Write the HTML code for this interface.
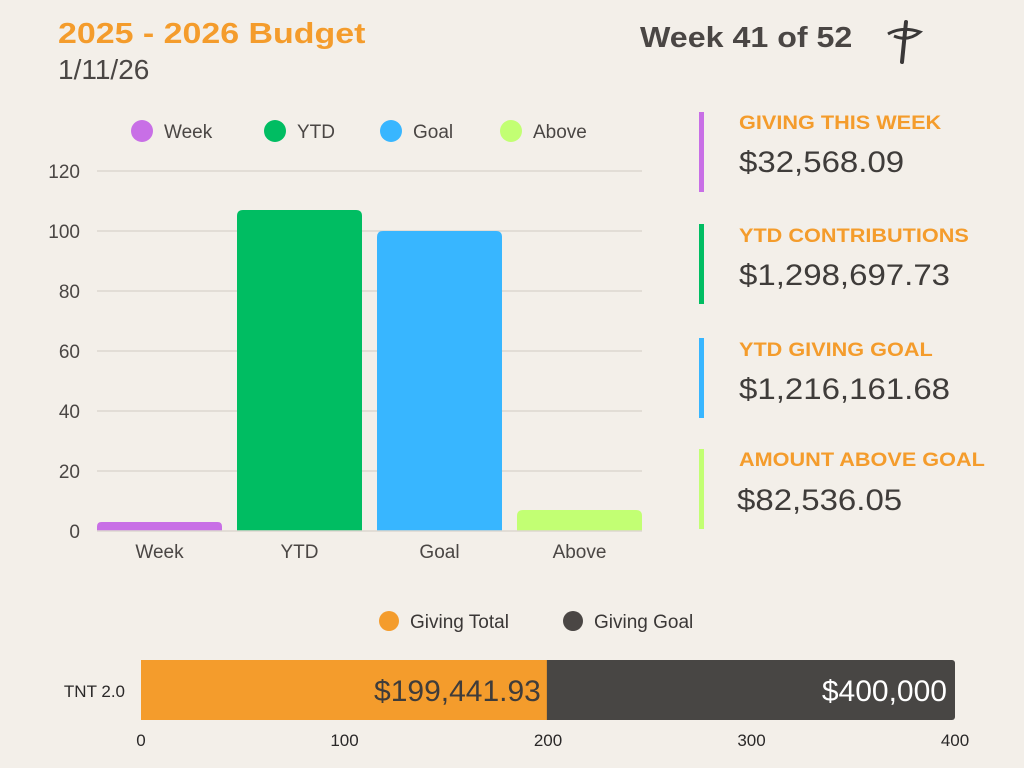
<!DOCTYPE html>
<html><head><meta charset="utf-8"><style>
body{margin:0;width:1024px;height:768px;background:#f3efe9;font-family:"Liberation Sans",sans-serif;overflow:hidden;position:relative;color:#4a4644}
.a{position:absolute;white-space:nowrap;transform-origin:0 0}
.lab{color:#f49c2c;font-weight:bold;font-size:19px;transform:scaleX(1.14)}
.val{font-size:30px;color:#3f3c3a;transform:scaleX(1.1)}
.vb{position:absolute;width:5px}
</style></head><body>
<div class="a" style="left:58px;top:18px;font-size:29px;font-weight:bold;color:#f49c2c;transform:scaleX(1.17)">2025 - 2026 Budget</div>
<div class="a" style="left:58px;top:54px;font-size:28px;color:#4a4644">1/11/26</div>
<div class="a" style="left:640px;top:22px;font-size:29px;font-weight:bold;color:#4a4644;transform:scaleX(1.11)">Week 41 of 52</div>
<svg class="a" style="left:880px;top:16px" width="50" height="50"><path d="M8 18 Q22 10 40 16 Q28 26 14 20" fill="none" stroke="#3a3838" stroke-width="3"/><path d="M26 6 L22 46" stroke="#3a3838" stroke-width="4" stroke-linecap="round"/></svg>

<div class="vb" style="left:699px;top:112px;height:80px;background:#c86fe6"></div>
<div class="a lab" style="left:739px;top:113px">GIVING THIS WEEK</div>
<div class="a val" style="left:739px;top:146px">$32,568.09</div>
<div class="vb" style="left:699px;top:224px;height:80px;background:#00bd62"></div>
<div class="a lab" style="left:739px;top:226px">YTD CONTRIBUTIONS</div>
<div class="a val" style="left:739px;top:259px">$1,298,697.73</div>
<div class="vb" style="left:699px;top:338px;height:80px;background:#38b6ff"></div>
<div class="a lab" style="left:739px;top:340px">YTD GIVING GOAL</div>
<div class="a val" style="left:739px;top:373px">$1,216,161.68</div>
<div class="vb" style="left:699px;top:449px;height:80px;background:#c2ff73"></div>
<div class="a lab" style="left:739px;top:450px">AMOUNT ABOVE GOAL</div>
<div class="a val" style="left:737px;top:484px">$82,536.05</div>

<svg id="c" class="a" style="left:0;top:0" width="1024" height="768"></svg>
<script>
const categories=["Week","YTD","Goal","Above"];
const values=[3,107,100,7];
const colors=["#c86fe6","#00bd62","#38b6ff","#c2ff73"];
const yTicks=[0,20,40,60,80,100,120];
const progLabel="TNT 2.0";
const progTotal=[199.44193];
const progGoal=[400];
const xTicks=[0,100,200,300,400];
const ns="http://www.w3.org/2000/svg",s=document.getElementById('c');
function el(t,a,txt){const e=document.createElementNS(ns,t);for(const k in a)e.setAttribute(k,a[k]);if(txt!=null)e.textContent=txt;s.appendChild(e);return e;}
const y=v=>531-v*3, x0=97, band=140, bw=125;
yTicks.forEach(t=>{
 if(t>0){const l=el('line',{x1:97,x2:642,y1:y(t),y2:y(t),stroke:"#dcd7d0","stroke-width":1.5});
 
 }
 const tx=el('text',{x:80,y:y(t)+7,"text-anchor":"end","font-size":19,fill:"#4a4644","font-family":"Liberation Sans"},t);
 
 
});
categories.forEach((c,i)=>{
 const bx=x0+i*band,h=values[i]*3,r=Math.min(6,h/2);
 const p=el('path',{d:`M${bx} 531 V${y(values[i])+r} Q${bx} ${y(values[i])} ${bx+r} ${y(values[i])} H${bx+bw-r} Q${bx+bw} ${y(values[i])} ${bx+bw} ${y(values[i])+r} V531 Z`,fill:colors[i]});
 
 
 const t=el('text',{x:bx+bw/2,y:558,"text-anchor":"middle","font-size":19,fill:"#4a4644","font-family":"Liberation Sans"},c);
 
 
 const lx=[142,275,391,511][i];
 const cc=el('circle',{cx:lx,cy:131,r:11,fill:colors[i]});
 
 
 const lt=el('text',{x:lx+22,y:138,"font-size":19,fill:"#4a4644","font-family":"Liberation Sans"},c);
 
 
});
const bl=el('line',{x1:97,x2:642,y1:531,y2:531,stroke:"#dcd7d0","stroke-width":1.5});


const px=v=>141+v*(955-141)/400;
[["#f49c2c","Giving Total",389],["#4a4644","Giving Goal",573]].forEach(([c,n,lx])=>{
 const cc=el('circle',{cx:lx,cy:621,r:10,fill:c});
 
 
 const t=el('text',{x:lx+21,y:628,"font-size":19,fill:"#3a3736","font-family":"Liberation Sans"},n);
 
 
});
const g=el('rect',{x:px(0),y:660,width:px(progGoal[0])-px(0),height:60,rx:3,fill:"#484644"});


const tb=el('rect',{x:px(0),y:660,width:px(progTotal[0])-px(0),height:60,fill:"#f49c2c"});


const fmt=v=>'$'+(v*1000).toLocaleString('en-US',{minimumFractionDigits:v%1?2:0,maximumFractionDigits:2});
const t1=el('text',{x:px(progTotal[0])-6,y:701,"text-anchor":"end","font-size":30,fill:"#3f3c3a","font-family":"Liberation Sans"},fmt(progTotal[0]));


const t2=el('text',{x:px(progGoal[0])-8,y:701,"text-anchor":"end","font-size":30,fill:"#ffffff","font-family":"Liberation Sans"},fmt(progGoal[0]));


const cl=el('text',{x:125,y:697,"text-anchor":"end","font-size":17,fill:"#2a2828","font-family":"Liberation Sans"},progLabel);


xTicks.forEach(t=>{
 const e=el('text',{x:px(t),y:746,"text-anchor":"middle","font-size":17,fill:"#2a2828","font-family":"Liberation Sans"},t);
 
 
});
</script>
</body></html>
